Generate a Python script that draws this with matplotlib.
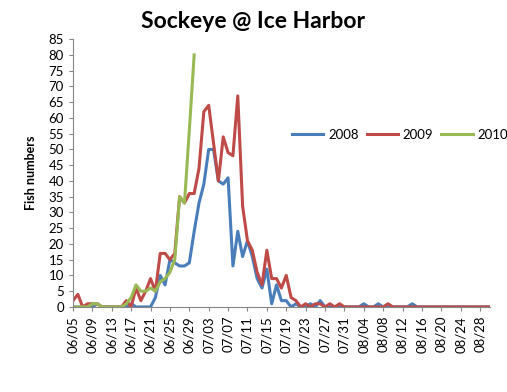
import matplotlib
matplotlib.use("Agg")
import matplotlib.pyplot as plt
import numpy as np
import pandas as pd

plt.rcParams['font.family'] = ['Lato', 'DejaVu Sans']

# daily counts, 06/05 .. 08/30
dates = pd.date_range('2009-06-05', '2009-08-30', freq='D')

fish_2008 = [0, 0, 0, 0, 0, 1, 0, 0, 0, 0, 0, 0, 1, 0, 0, 0, 0,
             3, 10, 7, 15, 14, 13, 13, 14,
             24, 33, 39, 50, 50, 40, 39, 41,
             13, 24, 16, 21, 16, 9, 6, 12,
             1, 7, 2, 2, 0, 1, 0, 0, 1, 0, 2, 0,
             0, 0, 0, 0, 0, 0, 0,
             1, 0, 0, 1, 0, 0, 0, 0, 0, 0, 1,
             0, 0, 0, 0, 0, 0, 0, 0, 0, 0, 0, 0, 0, 0, 0, 0]

fish_2009 = [2, 4, 0, 1, 1, 1, 0, 0, 0, 0, 0,
             2, 0, 6, 2, 5, 9, 5, 17, 17, 15, 17, 35, 33, 36, 36, 44,
             62, 64, 52, 40, 54, 49, 48, 67, 32, 21, 18, 11, 7, 18,
             9, 9, 6, 10, 3, 2, 0, 1, 0, 1, 1, 0, 1, 0, 1,
             0, 0, 0, 0, 0, 0, 0, 0, 0, 1,
             0, 0, 0, 0, 0, 0, 0, 0, 0, 0, 0, 0, 0, 0, 0, 0, 0, 0, 0, 0, 0]

fish_2010 = [0, 0, 0, 0, 1, 1, 0, 0, 0, 0, 0, 1, 3, 7, 5, 5, 6, 5,
             8, 9, 11, 15, 35, 33, 56, 80]

labels = [d.strftime('%m/%d') for d in dates]
x = np.arange(len(dates))

fig = plt.figure(figsize=(5.07, 3.92), dpi=100)
ax = fig.add_axes([0.144, 0.217, 0.822, 0.683])

ax.plot(x, fish_2008, color='#4A7EBB', lw=2.2, label='2008')
ax.plot(x, fish_2009, color='#BE4B48', lw=2.2, label='2009')
ax.plot(np.arange(len(fish_2010)), fish_2010, color='#98B954', lw=2.2, label='2010')

ax.set_xlim(0, len(dates) - 1)
ax.set_ylim(0, 85)
ax.set_yticks(np.arange(0, 86, 5))
ax.set_xticks(x[::4])
ax.set_xticklabels(labels[::4], rotation=90)
ax.tick_params(axis='both', labelsize=9.5, length=3, color='#868686')

for s in ['top', 'right']:
    ax.spines[s].set_visible(False)
for s in ['left', 'bottom']:
    ax.spines[s].set_color('#868686')

ax.set_ylabel('Fish numbers', fontsize=9, fontweight='bold', labelpad=8)
fig.text(0.5, 0.945, 'Sockeye @ Ice Harbor', ha='center', va='center',
         fontsize=16.5, fontweight='bold')

ax.legend(loc='center left', bbox_to_anchor=(0.525, 0.643), ncol=3,
          frameon=False, fontsize=9.5, handlelength=2.4, handletextpad=0.35,
          columnspacing=0.6, borderpad=0, borderaxespad=0)

fig.savefig('out.png', dpi=100)
